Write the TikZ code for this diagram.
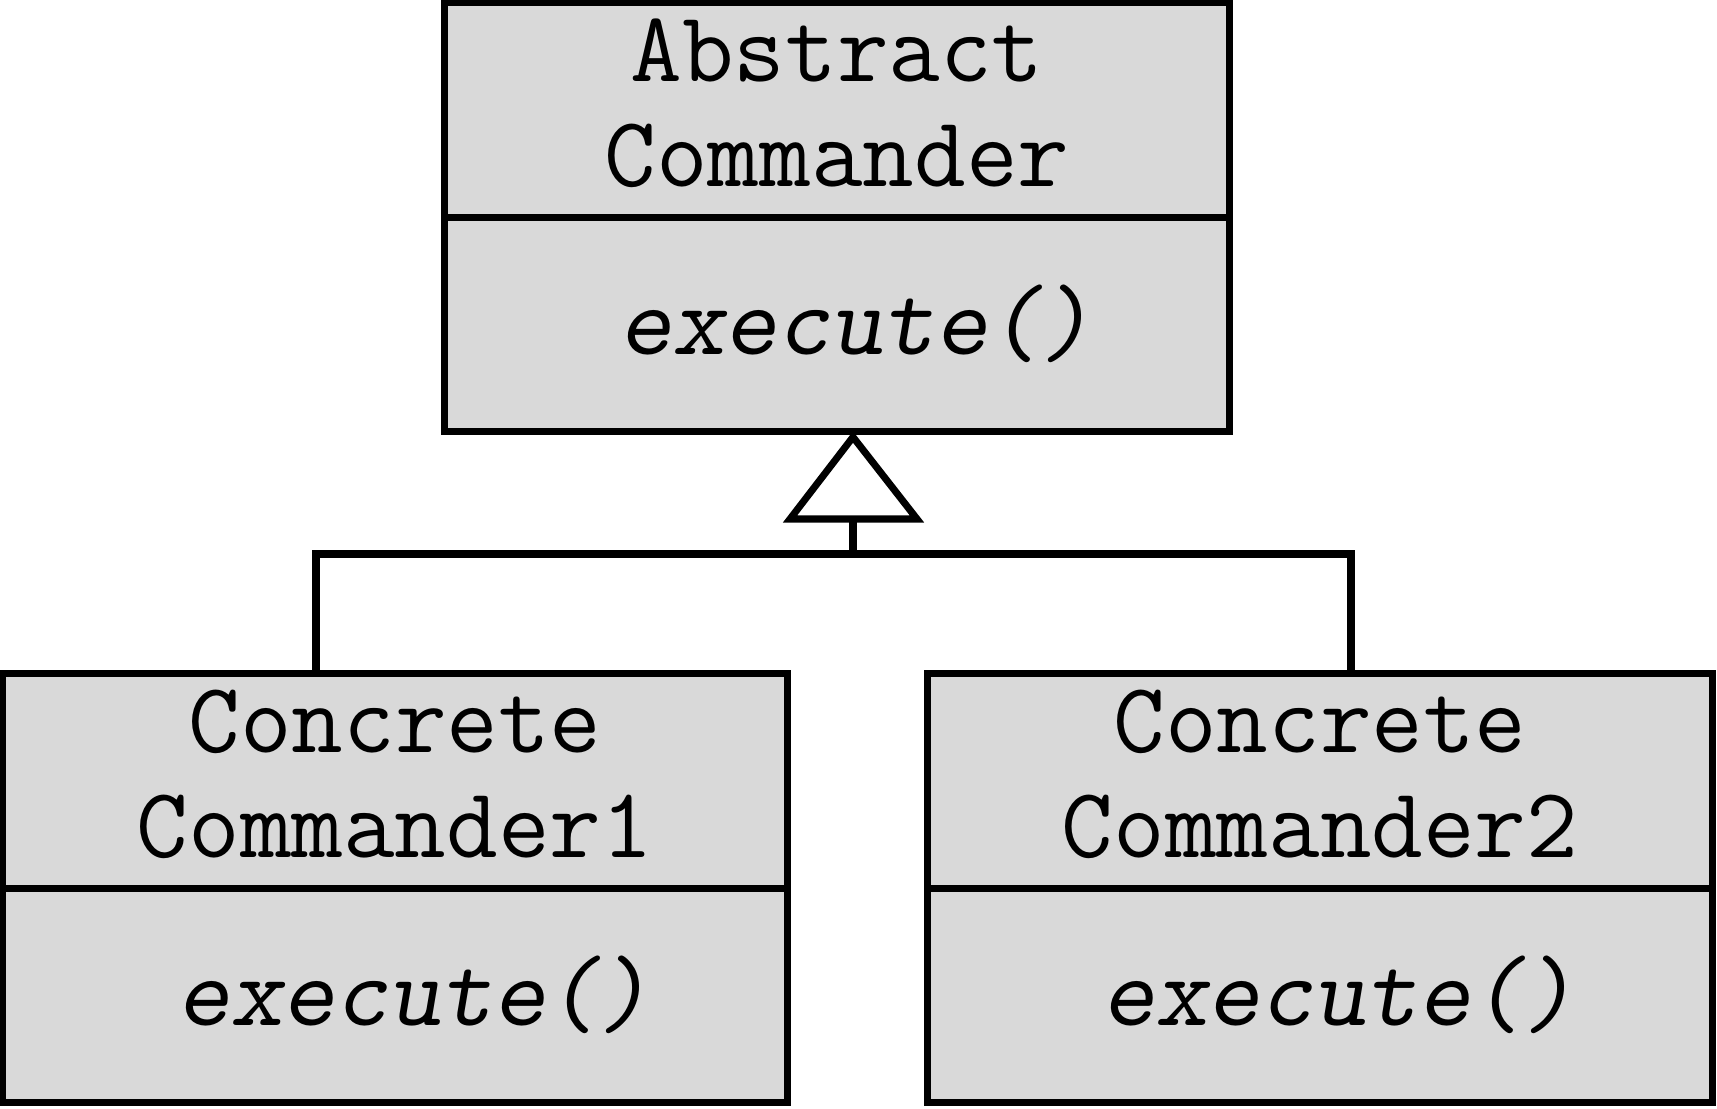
\documentclass[tikz,border=0pt]{standalone}
\usepackage{fontspec}
\usetikzlibrary{positioning}
\definecolor{umlgray}{RGB}{217,217,217}

\begin{document}
\begin{tikzpicture}[
            x=0.01cm, y=-0.01cm,
            line width=2pt,
            every node/.append style={font=\ttfamily\fontsize{28.5}{29.9}\selectfont},
            classpart/.style={draw, fill=umlgray, outer sep=0pt, inner sep=0pt,
                minimum width=7.84cm, minimum height=2.14cm, align=center},
            oppart/.style={classpart, text height=0.8cm, text depth=0.2cm}
        ]
            \useasboundingbox (0,0) rectangle (1717,1108);
            \node[classpart] (abstract) at (837,110) {Abstract\\Commander\rule[-0.15cm]{0pt}{0pt}};
            \node[oppart, below=0pt of abstract] (abstractop) {\hspace{11pt}\textsl{execute()}};
            \node[classpart] (concreteA) at (395,781) {Concrete\\Commander1\rule[-0.15cm]{0pt}{0pt}};
            \node[oppart, below=0pt of concreteA] (concreteAop) {\hspace{11pt}\textsl{execute()}};
            \node[classpart] (concreteB) at (1320,781) {Concrete\\Commander2\rule[-0.15cm]{0pt}{0pt}};
            \node[oppart, below=0pt of concreteB] (concreteBop) {\hspace{11pt}\textsl{execute()}};
            \coordinate (tip) at (853,437);
            \coordinate (base) at (853,519);
            \coordinate (joint) at (853,554);
            \coordinate (leftjoint) at (316,554);
            \coordinate (rightjoint) at (1351,554);
            \draw (concreteA.north -| leftjoint) -- (leftjoint) -- (rightjoint)
                -- (concreteB.north -| rightjoint);
            \draw (joint) -- (base);
            \draw[fill=white] (tip) -- (base -| 790,0) -- (base -| 917,0) -- cycle;
        \end{tikzpicture}
\end{document}
